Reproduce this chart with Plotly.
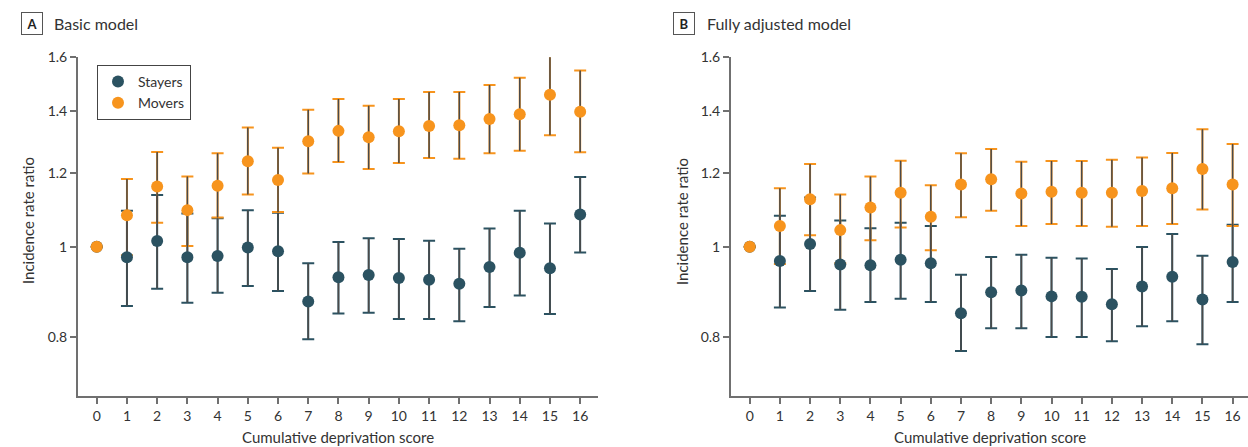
import numpy as np
import plotly.graph_objects as go

# ---------------- data ----------------
scores = list(range(17))

# Panel A: Basic model
a_stay_pt = [1.000, 0.974, 1.014, 0.974, 0.977, 0.998, 0.989, 0.873, 0.927, 0.932, 0.925, 0.921, 0.912, 0.951, 0.985, 0.948, 1.083]
a_stay_lo = [1.000, 0.863, 0.901, 0.870, 0.892, 0.907, 0.896, 0.795, 0.847, 0.849, 0.836, 0.836, 0.831, 0.861, 0.886, 0.846, 0.986]
a_stay_hi = [1.000, 1.093, 1.137, 1.086, 1.073, 1.095, 1.088, 0.960, 1.012, 1.021, 1.019, 1.015, 0.995, 1.046, 1.093, 1.059, 1.189]
a_move_pt = [1.000, 1.081, 1.161, 1.095, 1.163, 1.236, 1.180, 1.299, 1.333, 1.312, 1.332, 1.349, 1.352, 1.373, 1.389, 1.458, 1.398]
a_move_lo = [1.000, 0.979, 1.061, 1.002, 1.075, 1.138, 1.090, 1.199, 1.234, 1.213, 1.231, 1.246, 1.244, 1.261, 1.269, 1.319, 1.264]
a_move_hi = [1.000, 1.183, 1.265, 1.190, 1.261, 1.344, 1.278, 1.405, 1.443, 1.419, 1.443, 1.468, 1.468, 1.494, 1.521, 1.605, 1.548]

# Panel B: Fully adjusted model
b_stay_pt = [1.000, 0.965, 1.007, 0.957, 0.955, 0.968, 0.960, 0.848, 0.893, 0.897, 0.884, 0.883, 0.867, 0.906, 0.928, 0.877, 0.963]
b_stay_lo = [1.000, 0.860, 0.896, 0.855, 0.872, 0.879, 0.872, 0.772, 0.817, 0.817, 0.799, 0.799, 0.791, 0.821, 0.831, 0.785, 0.872]
b_stay_hi = [1.000, 1.080, 1.130, 1.067, 1.047, 1.061, 1.053, 0.933, 0.975, 0.980, 0.973, 0.971, 0.946, 0.999, 1.032, 0.978, 1.056]
b_move_pt = [1.000, 1.053, 1.125, 1.042, 1.102, 1.143, 1.077, 1.167, 1.182, 1.141, 1.146, 1.143, 1.143, 1.148, 1.156, 1.213, 1.167]
b_move_lo = [1.000, 0.958, 1.029, 0.960, 1.016, 1.049, 0.991, 1.076, 1.093, 1.053, 1.058, 1.053, 1.051, 1.053, 1.058, 1.097, 1.053]
b_move_hi = [1.000, 1.156, 1.228, 1.138, 1.190, 1.238, 1.165, 1.261, 1.274, 1.235, 1.237, 1.237, 1.241, 1.248, 1.262, 1.338, 1.290]

y_ticks = [0.8, 1.0, 1.2, 1.4, 1.6]
y_ticktext = ["0.8", "1", "1.2", "1.4", "1.6"]
series_names = ["Stayers", "Movers"]
panel_titles = [("A", "Basic model"), ("B", "Fully adjusted model")]
x_title = "Cumulative deprivation score"
y_title = "Incidence rate ratio"

# ---------------- style ----------------
W, H = 1248, 447
TEAL = "#2b5261"
ORANGE = "#f7941d"
STEM = "#4a4a4a"
TXT = "#333333"
AXIS = "#707070"
GRID = "#dcdcdc"
FONT = "Lato, Arial, sans-serif"

def px_x(p):
    return p / W

def px_y(p):
    return 1 - p / H

fig = go.Figure()

panels = [
    dict(x="x", y="y", data=(a_stay_pt, a_stay_lo, a_stay_hi, a_move_pt, a_move_lo, a_move_hi), legend=True),
    dict(x="x2", y="y2", data=(b_stay_pt, b_stay_lo, b_stay_hi, b_move_pt, b_move_lo, b_move_hi), legend=False),
]

for pn in panels:
    s_pt, s_lo, s_hi, m_pt, m_lo, m_hi = [np.array(v) for v in pn["data"]]
    groups = [(s_pt, s_lo, s_hi, TEAL, series_names[0]), (m_pt, m_lo, m_hi, ORANGE, series_names[1])]
    # caps in series colour
    for pt, lo, hi, col, name in groups:
        fig.add_trace(go.Scatter(
            x=scores, y=pt, mode="markers", xaxis=pn["x"], yaxis=pn["y"], cliponaxis=False,
            marker=dict(size=1, color="rgba(0,0,0,0)"), showlegend=False, hoverinfo="skip",
            error_y=dict(type="data", symmetric=False, array=hi - pt, arrayminus=pt - lo,
                         color=col, thickness=2, width=6),
        ))
    # dark stems on top
    for pt, lo, hi, col, name in groups:
        fig.add_trace(go.Scatter(
            x=scores, y=pt, mode="markers", xaxis=pn["x"], yaxis=pn["y"], cliponaxis=False,
            marker=dict(size=1, color="rgba(0,0,0,0)"), showlegend=False, hoverinfo="skip",
            error_y=dict(type="data", symmetric=False, array=hi - pt, arrayminus=pt - lo,
                         color=STEM, thickness=1.5, width=0),
        ))
    # markers
    for pt, lo, hi, col, name in groups:
        fig.add_trace(go.Scatter(
            x=scores, y=pt, mode="markers", xaxis=pn["x"], yaxis=pn["y"], name=name, cliponaxis=False,
            marker=dict(size=12, color=col, line=dict(width=0)),
            showlegend=pn["legend"],
        ))

# plot-area geometry (pixels)
top, bottom = 57.3, 395.7
ax_a = (78, 598.3)
ax_b = (731, 1248)
ydom = [px_y(bottom), px_y(top)]
yr = [np.log10(0.6909), np.log10(1.6)]
xr_a = [-0.62, 16.6]
xr_b = [-0.62, 16.51]

common_x = dict(showgrid=False, zeroline=False, showline=True, linecolor=AXIS, linewidth=2,
                ticks="outside", ticklen=6, tickwidth=1.5, tickcolor=AXIS, automargin=False,
                tickvals=scores, ticktext=[str(s) for s in scores],
                tickfont=dict(family=FONT, size=14, color=TXT))
common_y = dict(type="log", showgrid=False, zeroline=False, showline=True, linecolor=AXIS, linewidth=2,
                ticks="outside", ticklen=6, tickwidth=1.5, tickcolor=AXIS, automargin=False,
                tickvals=y_ticks, ticktext=y_ticktext, range=yr, domain=ydom,
                tickfont=dict(family=FONT, size=14, color=TXT))

fig.update_layout(
    width=W, height=H, margin=dict(l=0, r=0, t=0, b=0, autoexpand=False),
    paper_bgcolor="white", plot_bgcolor="white",
    font=dict(family=FONT, color=TXT),
    xaxis=dict(common_x, domain=[px_x(ax_a[0]), px_x(ax_a[1])], range=xr_a, anchor="y"),
    yaxis=dict(common_y, anchor="x"),
    xaxis2=dict(common_x, domain=[px_x(ax_b[0]), 1.0], range=xr_b, anchor="y2"),
    yaxis2=dict(common_y, anchor="x2"),
    legend=dict(x=px_x(97), y=px_y(65), xanchor="left", yanchor="top",
                bordercolor="#444444", borderwidth=1, bgcolor="white",
                font=dict(family=FONT, size=14, color=TXT),
                itemsizing="trace", tracegroupgap=0),
    showlegend=True,
)

shapes = []
for xr_name, yr_name in [("x", "y"), ("x2", "y2")]:
    for v in y_ticks:
        if v == 1.0:
            continue
        shapes.append(dict(type="line", xref=f"{xr_name} domain", yref=yr_name,
                           x0=0, x1=1, y0=np.log10(v), y1=np.log10(v),
                           line=dict(color=GRID, width=1.5), layer="below"))
    shapes.append(dict(type="line", xref=f"{xr_name} domain", yref=yr_name,
                       x0=0, x1=1, y0=0, y1=0,
                       line=dict(color="#777777", width=1.2, dash="dot"), layer="below"))
fig.update_layout(shapes=shapes)

ann = []
title_pos = [(32, 52), (684, 705)]
for (letter, ttl), (bx, tx) in zip(panel_titles, title_pos):
    ann.append(dict(xref="paper", yref="paper", x=px_x(bx), y=px_y(23.5), xanchor="center", yanchor="middle",
                    text=f"<b>{letter}</b>", showarrow=False, font=dict(family=FONT, size=13, color="#222"),
                    bordercolor="#555555", borderwidth=1, borderpad=0, width=20, height=21, bgcolor="white"))
    ann.append(dict(xref="paper", yref="paper", x=px_x(tx), y=px_y(23.5), xanchor="left", yanchor="middle",
                    text=ttl, showarrow=False, font=dict(family=FONT, size=16, color=TXT)))
for cx in [28, 682]:
    ann.append(dict(xref="paper", yref="paper", x=px_x(cx), y=px_y(221), xanchor="center", yanchor="middle",
                    text=y_title, textangle=-90, showarrow=False, font=dict(family=FONT, size=15, color=TXT)))
for cx in [338, 989.5]:
    ann.append(dict(xref="paper", yref="paper", x=px_x(cx), y=px_y(437), xanchor="center", yanchor="middle",
                    text=x_title, showarrow=False, font=dict(family=FONT, size=15, color=TXT)))
fig.update_layout(annotations=ann)

post = ("document.body.style.margin='0';document.body.style.overflow='hidden';"
        "var d=document.getElementById('{plot_id}');d.style.position='fixed';d.style.top='0px';d.style.left='0px';")
fig.write_html("out.html", config={"displayModeBar": False}, post_script=post)
